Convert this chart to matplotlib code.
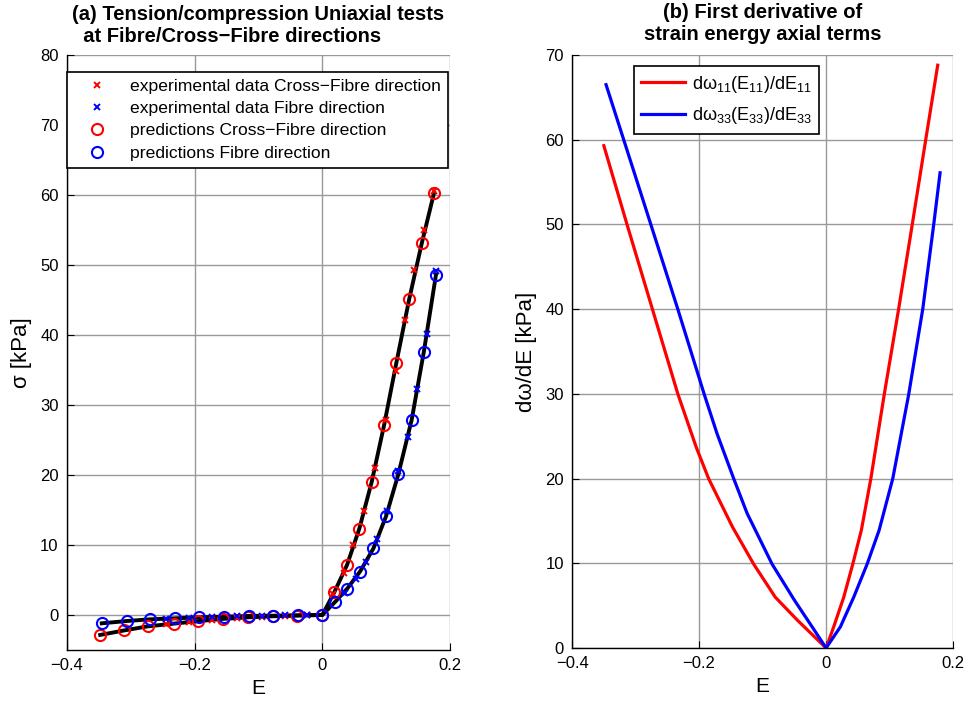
import numpy as np
import matplotlib
matplotlib.use('Agg')
from matplotlib import pyplot as plt

plt.rcParams['font.family'] = ['Liberation Sans', 'DejaVu Sans']
plt.rcParams['mathtext.default'] = 'regular'

# (a) predictions, Cross-Fibre direction
pred_cf_E = [-0.348, -0.310, -0.273, -0.233, -0.195, -0.156, -0.117, -0.078, -0.039, 0.0,
             0.019, 0.0387, 0.058, 0.0773, 0.0967, 0.116, 0.136, 0.156, 0.175]
pred_cf_S = [-2.85, -2.2, -1.62, -1.24, -0.88, -0.56, -0.34, -0.19, -0.08, 0.0,
             3.3, 7.15, 12.35, 19.0, 27.1, 36.05, 45.1, 53.2, 60.3]
# (a) predictions, Fibre direction
pred_f_E = [-0.3456, -0.306, -0.270, -0.231, -0.193, -0.154, -0.115, -0.077, -0.0386, 0.0,
            0.0199, 0.039, 0.059, 0.080, 0.0998, 0.119, 0.140, 0.159, 0.178]
pred_f_S = [-1.19, -0.86, -0.62, -0.48, -0.33, -0.24, -0.14, -0.10, -0.05, 0.0,
            1.86, 3.77, 6.2, 9.5, 14.1, 20.1, 27.9, 37.6, 48.6]
# (a) experimental data
exp_cf_E = [-0.245, -0.209, -0.173, -0.134, -0.095, -0.058, -0.024,
            0.017, 0.0335, 0.0486, 0.066, 0.0826, 0.0993, 0.115, 0.130, 0.144, 0.160, 0.175]
exp_cf_S = [-1.35, -1.0, -0.7, -0.42, -0.22, -0.1, -0.03,
            3.0, 6.05, 10.0, 14.9, 21.0, 27.9, 34.9, 42.2, 49.3, 55.0, 60.5]
exp_f_E = [-0.245, -0.209, -0.173, -0.134, -0.095, -0.058, -0.024,
           0.036, 0.053, 0.068, 0.085, 0.102, 0.119, 0.134, 0.148, 0.1635, 0.178]
exp_f_S = [-0.55, -0.4, -0.3, -0.2, -0.12, -0.07, -0.03,
           3.2, 5.1, 7.6, 10.8, 14.9, 20.5, 25.4, 32.3, 40.2, 49.1]

# (b) first derivatives
d11_E = [-0.350, -0.3135, -0.2735, -0.2335, -0.2045, -0.185, -0.1475, -0.114, -0.080,
         -0.045, 0.0, 0.012, 0.0278, 0.042, 0.0555, 0.0705, 0.0915, 0.1142, 0.1357,
         0.1569, 0.1758]
d11_W = [59.3, 50, 40, 30, 23.7, 20.0, 14.3, 9.9, 6.0, 3.27, 0, 2.5, 6.0, 9.9, 13.9,
         20.0, 29.9, 40, 50, 60, 68.8]
d33_E = [-0.3465, -0.3187, -0.2760, -0.2335, -0.1917, -0.1717, -0.1455, -0.1244, -0.085,
         -0.0495, -0.022, 0.0, 0.0225, 0.0435, 0.0646, 0.0835, 0.105, 0.130, 0.1522,
         0.1695, 0.1795]
d33_W = [66.5, 60, 50, 40, 29.9, 25.3, 20.0, 15.9, 9.9, 5.6, 2.5, 0, 2.5, 6.0, 9.9, 13.9,
         20.0, 29.9, 40, 50, 56.1]

x_ticks = [-0.4, -0.2, 0, 0.2]
x_ticklabels = ['\u22120.4', '\u22120.2', '0', '0.2']

fig = plt.figure(figsize=(9.68, 7.02), dpi=100)
ax1 = fig.add_axes([0.0692, 0.0741, 0.3957, 0.8476])
ax2 = fig.add_axes([0.591, 0.0769, 0.3936, 0.8447])

for ax in (ax1, ax2):
    ax.grid(True, color='#999999', lw=1.0, ls='-')
    ax.set_axisbelow(True)
    ax.spines['top'].set_visible(False)
    ax.spines['right'].set_visible(False)
    ax.spines['left'].set_linewidth(1.0)
    ax.spines['bottom'].set_linewidth(1.0)
    ax.tick_params(direction='in', length=5, labelsize=12, pad=6)
    ax.set_xlim(-0.4, 0.2)
    ax.set_xticks(x_ticks)
    ax.set_xticklabels(x_ticklabels)
    ax.set_xlabel('E', fontsize=15, labelpad=4)

# --- (a)
ax1.plot(pred_cf_E, pred_cf_S, color='black', lw=2.8, zorder=3)
ax1.plot(pred_f_E, pred_f_S, color='black', lw=2.8, zorder=3)
h1, = ax1.plot(exp_cf_E, exp_cf_S, 'x', color='red', ms=5, mew=1.4, ls='none', zorder=4)
h2, = ax1.plot(exp_f_E, exp_f_S, 'x', color='blue', ms=5, mew=1.4, ls='none', zorder=4)
h3, = ax1.plot(pred_cf_E, pred_cf_S, 'o', mfc='none', mec='red', ms=8, mew=1.5, ls='none', zorder=5)
h4, = ax1.plot(pred_f_E, pred_f_S, 'o', mfc='none', mec='blue', ms=8, mew=1.5, ls='none', zorder=5)
ax1.set_ylim(-5, 80)
ax1.set_yticks(range(0, 81, 10))
ax1.set_ylabel('\u03c3 [kPa]', fontsize=16, labelpad=6)
ax1.set_title('(a) Tension/compression Uniaxial tests\n  at Fibre/Cross\u2212Fibre directions',
              fontsize=14.5, fontweight='bold', pad=9, multialignment='left')
leg1 = ax1.legend([h1, h2, h3, h4],
                  ['experimental data Cross\u2212Fibre direction',
                   'experimental data Fibre direction',
                   'predictions Cross\u2212Fibre direction',
                   'predictions Fibre direction'],
                  loc='upper left', bbox_to_anchor=(0.0, 0.972), borderaxespad=0,
                  fontsize=12.6, fancybox=False, framealpha=1, edgecolor='black',
                  handlelength=2.6, handletextpad=0.6, labelspacing=0.4, borderpad=0.4)
leg1.get_frame().set_linewidth(1.2)

# --- (b)
ax2.plot(d11_E, d11_W, color='red', lw=2.3, label=r'd$\omega_{11}$(E$_{11}$)/dE$_{11}$')
ax2.plot(d33_E, d33_W, color='blue', lw=2.3, label=r'd$\omega_{33}$(E$_{33}$)/dE$_{33}$')
ax2.set_ylim(0, 70)
ax2.set_yticks(range(0, 71, 10))
ax2.set_ylabel('d\u03c9/dE [kPa]', fontsize=16, labelpad=6)
ax2.set_title('(b) First derivative of\nstrain energy axial terms',
              fontsize=14.5, fontweight='bold', pad=11)
leg2 = ax2.legend(loc='upper left', bbox_to_anchor=(0.163, 0.981), borderaxespad=0,
                  fontsize=13, fancybox=False, framealpha=1, edgecolor='black',
                  handlelength=2.4, handletextpad=0.4, labelspacing=0.6, borderpad=0.4)
leg2.get_frame().set_linewidth(1.2)

fig.savefig('out.png', dpi=100)
